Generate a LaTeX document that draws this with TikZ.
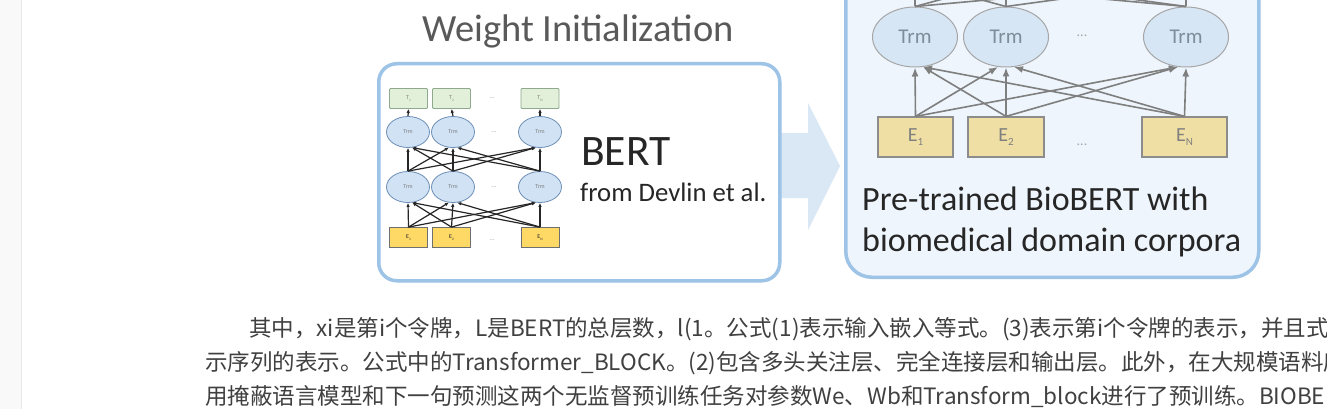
\documentclass[tikz,border=0pt]{standalone}
\usepackage{fontspec}
\setmainfont{Carlito}
\newfontfamily\cjk{Noto Sans CJK SC}
\usetikzlibrary{shapes.geometric,arrows.meta}

\definecolor{boxblue}{HTML}{9DC3E6}
\definecolor{rfill}{HTML}{EEF5FC}
\definecolor{arrowfill}{HTML}{DAE8F6}
\definecolor{trmfill}{HTML}{D6E6F5}
\definecolor{trmline}{HTML}{A6A6A6}
\definecolor{trmtext}{HTML}{7F8C99}
\definecolor{efill}{HTML}{F0DFA4}
\definecolor{eline}{HTML}{8C8C8C}
\definecolor{conn}{HTML}{7F7F7F}
\definecolor{mgfill}{HTML}{E2F0D9}
\definecolor{mgline}{HTML}{8FA98F}
\definecolor{mefill}{HTML}{FFD966}
\definecolor{meline}{HTML}{6F6F6F}
\definecolor{mtfill}{HTML}{D0E2F4}
\definecolor{mtline}{HTML}{6D8FB5}
\definecolor{titlegray}{HTML}{595959}
\definecolor{darktext}{HTML}{262626}
\definecolor{bodytext}{HTML}{404040}
\definecolor{stripgray}{HTML}{F9F9F9}
\definecolor{stripline}{HTML}{E8E8E8}

\tikzset{
  bigbox/.style={draw=boxblue, line width=3.5pt, inner sep=0pt},
  mtbox/.style={draw=mgline, fill=mgfill, line width=0.8pt, rounded corners=1pt,
    minimum width=38pt, minimum height=20pt, inner sep=0pt,
    font=\fontsize{6}{6}\selectfont, text=gray},
  mebox/.style={draw=meline, fill=mefill, line width=0.8pt,
    minimum width=38pt, minimum height=20pt, inner sep=0pt,
    font=\fontsize{6}{6}\selectfont, text=darktext},
  mtrm/.style={ellipse, draw=mtline, fill=mtfill, line width=0.8pt,
    minimum width=43pt, minimum height=31pt, inner sep=0pt,
    font=\fontsize{6}{6}\selectfont, text=gray},
  mconn/.style={draw=black!85, line width=1.2pt, -{Latex[length=4pt,width=3.5pt]}},
  mdots/.style={font=\fontsize{7}{7}\selectfont, text=gray!70},
  rtrm/.style={ellipse, draw=trmline, fill=trmfill, line width=1pt,
    minimum width=85pt, minimum height=60pt, inner sep=0pt,
    font=\fontsize{21}{21}\selectfont, text=trmtext},
  rebox/.style={draw=eline, fill=efill, line width=1.2pt,
    minimum height=40pt, inner sep=0pt,
    font=\fontsize{20}{20}\selectfont, text=conn},
  rconn/.style={draw=conn, line width=1.6pt, -{Latex[length=9pt,width=7pt]}},
  rdots/.style={font=\fontsize{14}{14}\selectfont, text=gray!70},
  bodyline/.style={anchor=base west, inner sep=0pt, text=bodytext,
    font=\cjk\fontsize{22.5}{22.5}\selectfont},
  figtext/.style={anchor=base west, inner sep=0pt, text=darktext},
}

\newcommand{\Esub}[1]{E\raisebox{-4pt}{\fontsize{11}{11}\selectfont #1}}
\newcommand{\msub}[2]{#1\raisebox{-1.5pt}{\fontsize{3.5}{3.5}\selectfont #2}}

\begin{document}
\begin{tikzpicture}[x=1pt,y=-1pt]
\useasboundingbox (0,0) rectangle (1327,409);
\clip (0,0) rectangle (1327,409);
\fill[white] (0,0) rectangle (1327,409);
\fill[stripgray] (0,0) rectangle (21,409);
\draw[stripline, line width=1pt] (21,0) -- (21,409);

% title
\node[anchor=base, inner sep=0pt, text=titlegray, font=\fontsize{38.5}{38.5}\selectfont]
  (title) at (578,42) {Weight Initialization};

% big arrow between the boxes
\fill[arrowfill] (770,133) -- (808,133) -- (808,103) -- (840,166) -- (808,230)
  -- (808,198) -- (770,198) -- cycle;

% left box
\node[bigbox, fill=white, rounded corners=18pt, minimum width=401pt,
  minimum height=217pt, anchor=north west] (lbox) at (377,62) {};

% right box
\node[bigbox, fill=rfill, rounded corners=26pt, minimum width=413pt,
  minimum height=320pt, anchor=south west] (rbox) at (844,279) {};

% ---- mini BERT diagram
\node[mtbox] (T1) at (408.5,98.5) {\msub{T}{1}};
\node[mtbox] (T2) at (451.5,98.5) {\msub{T}{2}};
\node[mtbox] (TN) at (540,98.5) {\msub{T}{N}};
\node[mtrm] (A1) at (408,132) {Trm};
\node[mtrm] (A2) at (453,132) {Trm};
\node[mtrm] (AN) at (540,132) {Trm};
\node[mtrm] (B1) at (408,187) {Trm};
\node[mtrm] (B2) at (453,187) {Trm};
\node[mtrm] (BN) at (540,187) {Trm};
\node[mebox] (E1) at (408.5,237.5) {\msub{E}{1}};
\node[mebox] (E2) at (451.5,237.5) {\msub{E}{2}};
\node[mebox] (EN) at (540,237.5) {\msub{E}{N}};
\node[mdots] (md1) at (492,98.5) {...};
\node[mdots] (md2) at (494,132) {...};
\node[mdots] (md3) at (494,187) {...};
\node[mdots] (md4) at (492,240) {...};

\foreach \i in {1,2,N} {
  \draw[mconn] (A\i.north) -- (T\i.south);
}
\draw[mconn] (B1.north) -- (A1.south);
\draw[mconn] (B2.north) -- (A2.south);
\draw[mconn] (BN.north) -- (AN.south);
\draw[mconn] (B1.north) -- (A2.-105);
\draw[mconn] (B1.north) -- (AN.-105);
\draw[mconn] (B2.north) -- (A1.-75);
\draw[mconn] (B2.north) -- (AN.-105);
\draw[mconn] (BN.north) -- (A1.-75);
\draw[mconn] (BN.north) -- (A2.-75);
\draw[mconn] (E1.north) -- (B1.south);
\draw[mconn] (E2.north) -- (B2.south);
\draw[mconn] (EN.north) -- (BN.south);
\draw[mconn] (E1.north) -- (B2.-105);
\draw[mconn] (E1.north) -- (BN.-105);
\draw[mconn] (E2.north) -- (B1.-75);
\draw[mconn] (E2.north) -- (BN.-105);
\draw[mconn] (EN.north) -- (B1.-75);
\draw[mconn] (EN.north) -- (B2.-75);

% left texts
\node[figtext, font=\fontsize{43.5}{43.5}\selectfont] (bert) at (581,165) {BERT};
\node[figtext, font=\fontsize{26.7}{26.7}\selectfont] (devlin) at (580,201) {from Devlin et al.};

% ---- right diagram
\coordinate (U1) at (915,-18);
\coordinate (U2) at (1006,-18);
\coordinate (UN) at (1186,-18);
\node[rtrm] (R1) at (915,37) {Trm};
\node[rtrm] (R2) at (1006,37) {Trm};
\node[rtrm] (RN) at (1186,37) {Trm};
\node[rdots] (rd1) at (1082,36) {...};
\node[rebox, minimum width=75pt] (F1) at (915.5,137) {\Esub{1}};
\node[rebox, minimum width=76pt] (F2) at (1006,137) {\Esub{2}};
\node[rebox, minimum width=85pt] (FN) at (1184.5,137) {\Esub{N}};
\node[rdots] (rd2) at (1082,145) {...};

\foreach \i in {1,2,N} {
  \foreach \j in {1,2,N} {
    \draw[rconn] (R\i.north) -- (U\j);
  }
}
\draw[rconn] (F1.north) -- (R1.south);
\draw[rconn] (F2.north) -- (R2.south);
\draw[rconn] (FN.north) -- (RN.south);
\draw[rconn] (F1.north) -- (R2.-105);
\draw[rconn] (F1.north) -- (RN.-105);
\draw[rconn] (F2.north) -- (R1.-75);
\draw[rconn] (F2.north) -- (RN.-105);
\draw[rconn] (FN.north) -- (R1.-75);
\draw[rconn] (FN.north) -- (R2.-75);

\node[figtext, font=\fontsize{34}{34}\selectfont] (pre1) at (862,210) {Pre-trained BioBERT with};
\node[figtext, font=\fontsize{34}{34}\selectfont] (pre2) at (862,251) {biomedical domain corpora};

% ---- body text
\node[bodyline] (l1) at (249,336) {其中，xi是第i个令牌，L是BERT的总层数，l(1。公式(1)表示输入嵌入等式。(3)表示第i个令牌的表示，并且式。};
\node[bodyline] (l2) at (205,370) {示序列的表示。公式中的Transformer\_BLOCK。(2)包含多头关注层、完全连接层和输出层。此外，在大规模语料库};
\node[bodyline] (l3) at (205,404) {用掩蔽语言模型和下一句预测这两个无监督预训练任务对参数We、Wb和Transform\_block进行了预训练。BIOBERT};
\end{tikzpicture}
\end{document}
